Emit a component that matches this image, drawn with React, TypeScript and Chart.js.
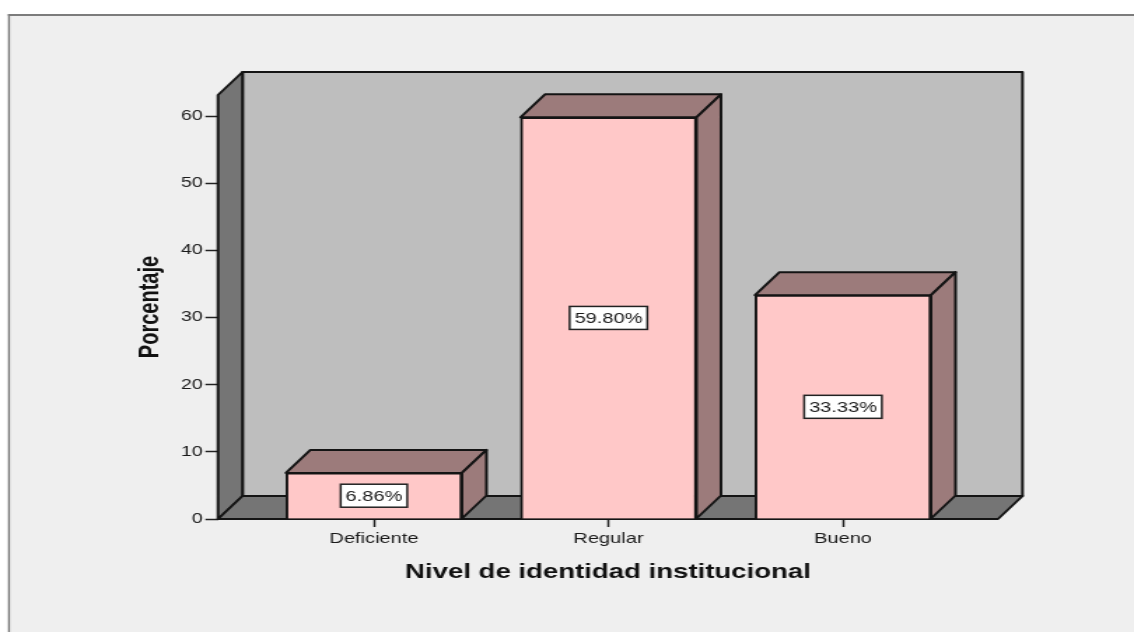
import React, { useEffect, useRef } from "react";
import { Chart, registerables } from "chart.js";

Chart.register(...registerables);

const categories = ["Deficiente", "Regular", "Bueno"];
const positions = [0, 1, 2];
const percentages = [6.86, 59.8, 33.33];
const yTicks = [0, 10, 20, 30, 40, 50, 60];

const STRETCH = 1.4;
const WIDTH = 1134 / STRETCH;
const HEIGHT = 632;
const DEPTH_X = 24.5 / STRETCH;
const DEPTH_Y = 23;
const LINE = "#141414";
const FONT = '"Liberation Sans", Arial, sans-serif';

function poly(ctx: CanvasRenderingContext2D, pts: number[][], fill: string) {
  ctx.beginPath();
  pts.forEach((p, i) => (i ? ctx.lineTo(p[0], p[1]) : ctx.moveTo(p[0], p[1])));
  ctx.closePath();
  ctx.fillStyle = fill;
  ctx.fill();
  ctx.strokeStyle = LINE;
  ctx.lineWidth = 2;
  ctx.lineJoin = "round";
  ctx.stroke();
}

const panelPlugin = {
  id: "panel",
  beforeDraw(chart: any) {
    const { ctx } = chart;
    ctx.save();
    ctx.fillStyle = "#ffffff";
    ctx.fillRect(0, 0, WIDTH, HEIGHT);
    ctx.fillStyle = "#efefef";
    ctx.fillRect(9 / STRETCH, 15, WIDTH, HEIGHT);
    ctx.fillStyle = "#7c7c7c";
    ctx.fillRect(8 / STRETCH, 14, WIDTH, 2);
    ctx.fillRect(8 / STRETCH, 14, 2 / STRETCH, HEIGHT);
    ctx.restore();
  },
};

const frame3dPlugin = {
  id: "frame3d",
  beforeDatasetsDraw(chart: any) {
    const { ctx, chartArea: a } = chart;
    const dx = DEPTH_X;
    const dy = DEPTH_Y;
    ctx.save();
    // back wall
    poly(ctx, [[a.left + dx, a.top - dy], [a.right + dx, a.top - dy], [a.right + dx, a.bottom - dy], [a.left + dx, a.bottom - dy]], "#bebebe");
    // left wall
    poly(ctx, [[a.left, a.top], [a.left + dx, a.top - dy], [a.left + dx, a.bottom - dy], [a.left, a.bottom]], "#757575");
    // floor
    poly(ctx, [[a.left, a.bottom], [a.left + dx, a.bottom - dy], [a.right + dx, a.bottom - dy], [a.right, a.bottom]], "#757575");
    // bar depth
    const meta = chart.getDatasetMeta(0);
    meta.data.forEach((bar: any) => {
      const l = bar.x - bar.width / 2;
      const r = bar.x + bar.width / 2;
      const t = bar.y;
      const b = bar.base;
      poly(ctx, [[l, t], [l + dx, t - dy], [r + dx, t - dy], [r, t]], "#9c7b7b");
      poly(ctx, [[r, t], [r + dx, t - dy], [r + dx, b - dy], [r, b]], "#9c7b7b");
    });
    ctx.restore();
  },
};

const valueBoxPlugin = {
  id: "valueBox",
  afterDatasetsDraw(chart: any) {
    const { ctx } = chart;
    const meta = chart.getDatasetMeta(0);
    ctx.save();
    ctx.font = `14.3px ${FONT}`;
    ctx.textAlign = "center";
    ctx.textBaseline = "middle";
    meta.data.forEach((bar: any, i: number) => {
      const text = `${percentages[i].toFixed(2)}%`;
      const cx = bar.x;
      const cy = (bar.y + bar.base) / 2;
      const w = ctx.measureText(text).width + 7;
      const h = 23;
      ctx.fillStyle = "#ffffff";
      ctx.fillRect(cx - w / 2, cy - h / 2, w, h);
      ctx.strokeStyle = "#222222";
      ctx.lineWidth = 1.5;
      ctx.strokeRect(cx - w / 2, cy - h / 2, w, h);
      ctx.fillStyle = "#1a1a1a";
      ctx.fillText(text, cx, cy + 1);
    });
    ctx.restore();
  },
};

export default function App() {
  const ref = useRef<HTMLCanvasElement | null>(null);

  useEffect(() => {
    if (!ref.current) return;
    const chart = new Chart(ref.current, {
      type: "bar",
      data: {
        datasets: [
          {
            label: "Porcentaje",
            data: positions.map((x, i) => ({ x, y: percentages[i] })),
            backgroundColor: "#ffc8c8",
            borderColor: LINE,
            borderWidth: 2,
            barThickness: 176 / STRETCH,
          },
        ],
      },
      options: {
        responsive: false,
        animation: false,
        devicePixelRatio: 1,
        layout: { padding: { top: 95, right: (1134 - 998) / STRETCH, left: 0, bottom: 0 } },
        plugins: { legend: { display: false }, tooltip: { enabled: false }, title: { display: false } },
        scales: {
          x: {
            type: "linear",
            offset: false,
            min: -0.665,
            max: 2.661,
            afterBuildTicks(scale: any) {
              scale.ticks = positions.map((value) => ({ value }));
            },
            afterFit(scale: any) {
              scale.height = 632 - 519;
            },
            grid: { offset: false, drawOnChartArea: false, tickLength: 8, tickColor: "#222222", tickWidth: 1.5 },
            border: { display: false },
            ticks: {
              autoSkip: false,
              maxRotation: 0,
              padding: 3,
              color: "#1a1a1a",
              font: { family: FONT, size: 14.3 },
              callback: (v: any) => categories[v as number],
            },
            title: {
              display: true,
              text: "Nivel de identidad institucional",
              color: "#111111",
              font: { family: FONT, size: 19.7, weight: "bold" },
              padding: { top: 0, bottom: 48 },
            },
          },
          y: {
            min: 0,
            max: 63.13,
            afterBuildTicks(scale: any) {
              scale.ticks = yTicks.map((value) => ({ value }));
            },
            afterFit(scale: any) {
              scale.width = 218 / STRETCH;
            },
            grid: { drawOnChartArea: false, tickLength: 9, tickColor: "#222222", tickWidth: 1.5 },
            border: { display: false },
            ticks: {
              padding: 2,
              color: "#1a1a1a",
              font: { family: FONT, size: 14 },
            },
            title: {
              display: true,
              text: "Porcentaje",
              color: "#111111",
              font: { family: FONT, size: 20, weight: "bold" },
              padding: { top: 95, bottom: 0 },
            },
          },
        },
      },
      plugins: [panelPlugin, frame3dPlugin, valueBoxPlugin],
    } as any);
    return () => chart.destroy();
  }, []);

  return (
    <div
      style={{
        position: "fixed",
        left: 0,
        top: 0,
        width: WIDTH,
        height: HEIGHT,
        transform: `scaleX(${STRETCH})`,
        transformOrigin: "0 0",
      }}
    >
      <canvas ref={ref} width={WIDTH} height={HEIGHT} style={{ display: "block" }} />
    </div>
  );
}
